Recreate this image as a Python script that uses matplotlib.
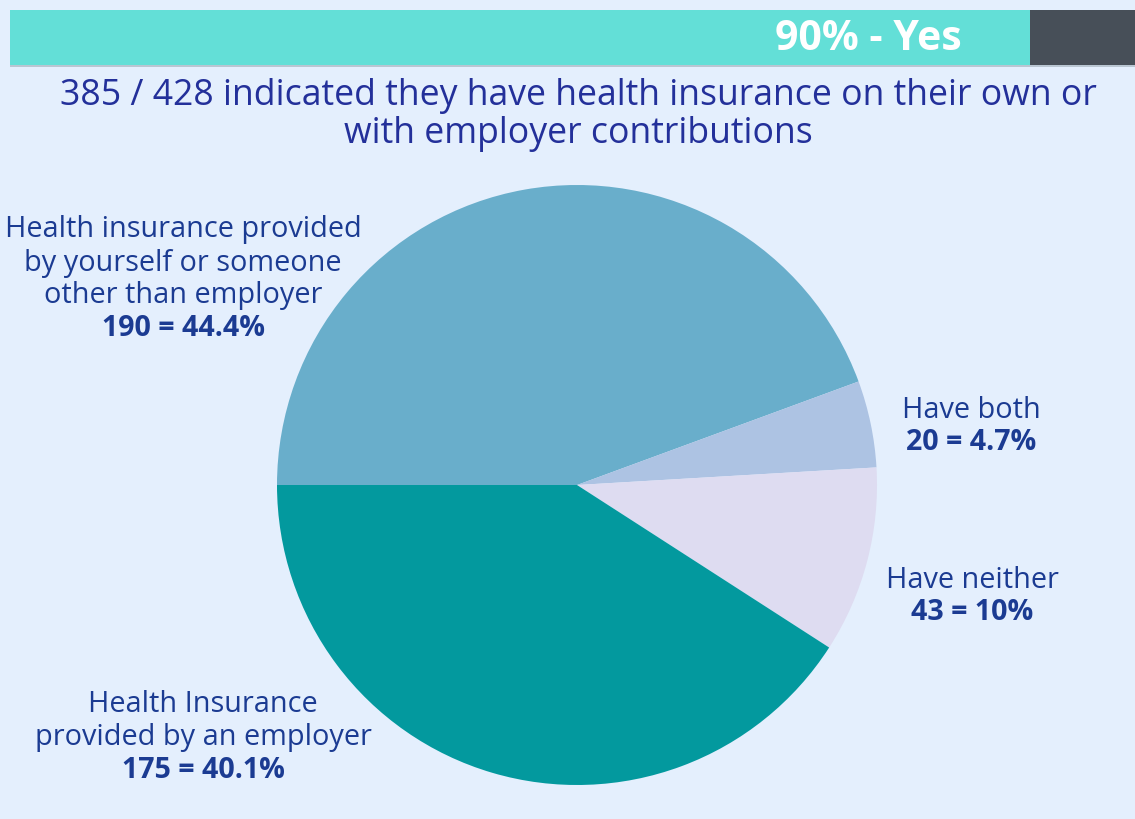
import matplotlib
matplotlib.use('Agg')
import matplotlib.pyplot as plt
from matplotlib.patches import Rectangle

# data
categories = ['Health insurance provided\nby yourself or someone\nother than employer',
              'Have both',
              'Have neither',
              'Health Insurance\nprovided by an employer']
counts = [190, 20, 43, 175]
pct_labels = ['44.4%', '4.7%', '10%', '40.1%']
slice_colors = ['#69aecb', '#adc3e3', '#dedcf1', '#03999e']
yes_share = 90
title = '385 / 428 indicated they have health insurance on their own or\nwith employer contributions'

BG = '#e4effd'
TXT = '#1b3b92'
W, H = 1135, 819

plt.rcParams['font.family'] = ['Open Sans', 'DejaVu Sans']

fig = plt.figure(figsize=(W / 100, H / 100), dpi=100, facecolor=BG)
ax = fig.add_axes([0, 0, 1, 1])
ax.set_facecolor(BG)

# top progress bar
bar_x, bar_w, bar_y, bar_h = 10, 1125, H - 65, 55
yes_w = 1020
ax.add_patch(Rectangle((bar_x, bar_y - 2), bar_w, bar_h, color='#b9c6d2', lw=0))
ax.add_patch(Rectangle((bar_x, bar_y), yes_w, bar_h, color='#63dfd7', lw=0))
ax.add_patch(Rectangle((bar_x + yes_w, bar_y), bar_w - yes_w, bar_h, color='#474f58', lw=0))
ax.text(962, bar_y + bar_h / 2 - 2, f'{yes_share}% - Yes', color='white',
        fontsize=29.5, fontweight='bold', ha='right', va='center')

# title
ax.text(578, H - 115, title, color='#23309a', fontsize=25.7, ha='center', va='center',
        linespacing=1.05)

# pie
cx, cy, r = 577, H - 485, 300
ax.pie(counts, colors=slice_colors, startangle=180, counterclock=False,
       center=(cx, cy), radius=r, wedgeprops=dict(linewidth=0), frame=True)
ax.set_xlim(0, W)
ax.set_ylim(0, H)
ax.set_aspect('equal')
ax.axis('off')

# labels: (center x, y of first line in px)
label_pos = [(183, 230), (971, 410), (972, 580), (203, 704)]
step = 33
for cat, n, pct, (lx, ly) in zip(categories, counts, pct_labels, label_pos):
    lines = cat.split('\n')
    for i, line in enumerate(lines):
        ax.text(lx, H - (ly + i * step), line, color=TXT, fontsize=20.8,
                ha='center', va='center')
    ax.text(lx, H - (ly + len(lines) * step), f'{n} = {pct}', color=TXT,
            fontsize=20.6, fontweight='bold', ha='center', va='center')

fig.savefig('out.png', dpi=100, facecolor=BG)
